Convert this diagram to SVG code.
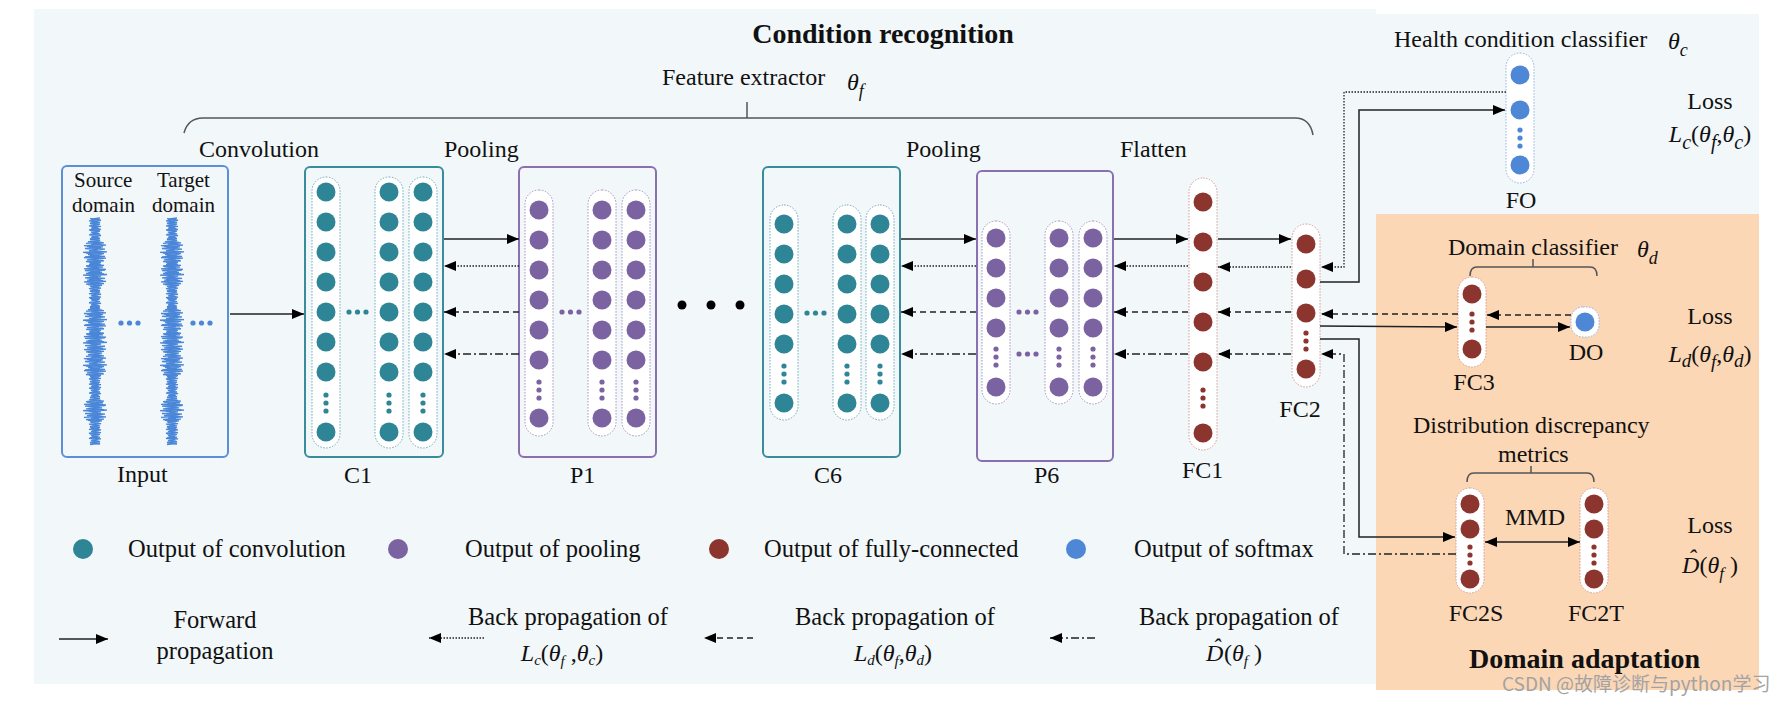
<svg xmlns="http://www.w3.org/2000/svg" width="1783" height="704" viewBox="0 0 1783 704">
<style>
.t{font-family:"Liberation Serif","Times New Roman",serif;font-size:24px;fill:#111}
.lg{font-size:24.5px}
.bt{font-weight:bold;font-size:28px}
.it{font-style:italic}
.sm{font-size:21px}
.teal{fill:#2e8596}
.pur{fill:#7b63a2}
.red{fill:#8c352f}
.blu{fill:#4d87d6}
.capT{fill:#fff;stroke:#6aaab8;stroke-width:1;stroke-dasharray:1.5 1.5}
.capP{fill:#fff;stroke:#a592c4;stroke-width:1;stroke-dasharray:1.5 1.5}
.capR{fill:#fff;stroke:#d49a94;stroke-width:1;stroke-dasharray:1.5 1.5}
.capB{fill:#fff;stroke:#8fb2e4;stroke-width:1;stroke-dasharray:1.5 1.5}
.boxT{fill:none;stroke:#3a8c9c;stroke-width:2}
.boxP{fill:none;stroke:#8a70b0;stroke-width:2}
.ln{fill:none;stroke:#222;stroke-width:1.5;marker-end:url(#ah)}
.dot{stroke-dasharray:1.5 1.5;stroke-width:1.3}
.dsh{stroke-dasharray:6 4;stroke-width:1.3}
.dd{stroke-dasharray:8 3 2 3;stroke-width:1.3}
.br{fill:none;stroke:#555;stroke-width:1.5}
.wave{fill:none;stroke:#4a86d8;stroke-width:1.3}
</style>
<defs>
<marker id="ah" viewBox="0 0 12 10" refX="12" refY="5" markerWidth="12" markerHeight="10" markerUnits="userSpaceOnUse" orient="auto-start-reverse"><path d="M0,0 L12,5 L0,10 z" fill="#000"/></marker>
<path id="wv" d="M5,218 l-9 1.13 10 1.13 -9 1.13 8 1.13 -10 1.13 9 1.13 -10 1.13 9 1.13 -7 1.13 10 1.13 -11 1.13 9 1.13 -7 1.13 8 1.13 -11 1.13 9 1.13 -7 1.13 9 1.13 -10 1.13 10 1.13 -12 1.13 16 1.13 -13 1.13 15 1.13 -19 1.13 14 1.13 -16 1.13 13 1.13 -9 1.13 18 1.13 -21 1.13 16 1.13 -12 1.13 15 1.13 -21 1.13 15 1.13 -12 1.13 17 1.13 -15 1.13 11 1.13 -11 1.13 15 1.13 -17 1.13 12 1.13 -15 1.13 21 1.13 -15 1.13 12 1.13 -16 1.13 21 1.13 -18 1.13 9 1.13 -13 1.13 16 1.13 -14 1.13 19 1.13 -15 1.13 13 1.13 -16 1.13 12 1.13 -9 1.13 10 1.13 -9 1.13 8 1.13 -10 1.13 9 1.13 -10 1.13 9 1.13 -7 1.13 10 1.13 -11 1.13 9 1.13 -7 1.13 8 1.13 -11 1.13 9 1.13 -7 1.13 9 1.13 -10 1.13 10 1.13 -12 1.13 16 1.13 -13 1.13 15 1.13 -19 1.13 14 1.13 -16 1.13 13 1.13 -9 1.13 18 1.13 -21 1.13 16 1.13 -12 1.13 15 1.13 -21 1.13 15 1.13 -12 1.13 17 1.13 -15 1.13 11 1.13 -11 1.13 15 1.13 -17 1.13 12 1.13 -15 1.13 21 1.13 -15 1.13 12 1.13 -16 1.13 21 1.13 -18 1.13 9 1.13 -13 1.13 16 1.13 -14 1.13 19 1.13 -15 1.13 13 1.13 -16 1.13 12 1.13 -12 1.13 16 1.13 -13 1.13 15 1.13 -19 1.13 14 1.13 -16 1.13 13 1.13 -9 1.13 18 1.13 -21 1.13 16 1.13 -12 1.13 15 1.13 -21 1.13 15 1.13 -12 1.13 17 1.13 -15 1.13 11 1.13 -9 1.13 10 1.13 -9 1.13 8 1.13 -10 1.13 9 1.13 -10 1.13 9 1.13 -7 1.13 10 1.13 -11 1.13 9 1.13 -7 1.13 8 1.13 -11 1.13 9 1.13 -7 1.13 9 1.13 -10 1.13 10 1.13 -11 1.13 15 1.13 -17 1.13 12 1.13 -15 1.13 21 1.13 -15 1.13 12 1.13 -16 1.13 21 1.13 -18 1.13 9 1.13 -13 1.13 16 1.13 -14 1.13 19 1.13 -15 1.13 13 1.13 -16 1.13 12 1.13 -9 1.13 10 1.13 -9 1.13 8 1.13 -10 1.13 9 1.13 -10 1.13 9 1.13 -7 1.13 10 1.13 -11 1.13 9 1.13 -7 1.13 8 1.13 -11 1.13 9 1.13 -7 1.13 9 1.13 -10 1.13 10 1.13"/>
<g id="cC1"><circle cy="192" r="9.5"/><circle cy="222" r="9.5"/><circle cy="252" r="9.5"/><circle cy="282" r="9.5"/><circle cy="312" r="9.5"/><circle cy="342" r="9.5"/><circle cy="372" r="9.5"/><circle cy="395" r="2.6"/><circle cy="403" r="2.6"/><circle cy="411" r="2.6"/><circle cy="432" r="9.5"/></g>
<g id="cP1"><circle cy="210" r="9.5"/><circle cy="240" r="9.5"/><circle cy="270" r="9.5"/><circle cy="300" r="9.5"/><circle cy="330" r="9.5"/><circle cy="360" r="9.5"/><circle cy="382" r="2.6"/><circle cy="390" r="2.6"/><circle cy="398" r="2.6"/><circle cy="418" r="9.5"/></g>
<g id="cC6"><circle cy="224" r="9.5"/><circle cy="254" r="9.5"/><circle cy="284" r="9.5"/><circle cy="314" r="9.5"/><circle cy="344" r="9.5"/><circle cy="366" r="2.6"/><circle cy="374" r="2.6"/><circle cy="382" r="2.6"/><circle cy="403" r="9.5"/></g>
<g id="cP6"><circle cy="238" r="9.5"/><circle cy="268" r="9.5"/><circle cy="298" r="9.5"/><circle cy="328" r="9.5"/><circle cy="349" r="2.6"/><circle cy="357" r="2.6"/><circle cy="365" r="2.6"/><circle cy="387" r="9.5"/></g>
<g id="hd"><circle cx="0" r="2.6"/><circle cx="8.5" r="2.6"/><circle cx="17" r="2.6"/></g>
<g id="cFS"><circle cy="504" r="9.5"/><circle cy="529" r="9.5"/><circle cy="547" r="2.6"/><circle cy="555" r="2.6"/><circle cy="563" r="2.6"/><circle cy="579" r="9.5"/></g>
</defs>

<rect x="0" y="0" width="1783" height="704" fill="#fff"/>
<rect x="34" y="9" width="1342" height="675" fill="#f2f7fa"/>
<rect x="1376" y="14" width="383" height="200" fill="#f2f7fa"/>
<rect x="1376" y="214" width="383" height="476" fill="#fbd7b6"/>

<g id="titles">
<text class="t bt" x="883" y="43" text-anchor="middle">Condition recognition</text>
<text class="t" x="662" y="85">Feature extractor</text>
<text class="t it" x="847" y="90" font-size="28">θ<tspan font-size="18" dy="7">f</tspan></text>
<text class="t" x="199" y="157">Convolution</text>
<text class="t" x="444" y="157">Pooling</text>
<text class="t" x="906" y="157">Pooling</text>
<text class="t" x="1120" y="157">Flatten</text>
<text class="t bt" x="1469" y="668">Domain adaptation</text>
<path class="br" d="M184,133 Q188,118 203,118 L1295,118 Q1310,118 1313,135 M747,102 L747,118"/>
</g>

<g id="input">
<rect x="62" y="166" width="166" height="291" rx="5" fill="none" stroke="#5b8fd6" stroke-width="2"/>
<text class="t sm" x="74" y="187">Source</text>
<text class="t sm" x="72" y="212">domain</text>
<text class="t sm" x="157" y="187">Target</text>
<text class="t sm" x="152" y="212">domain</text>
<use href="#wv" class="wave" transform="translate(95,0)"/>
<use href="#wv" class="wave" transform="translate(95,0.56) scale(-1,1)"/>
<use href="#wv" class="wave" transform="translate(172,0)"/>
<use href="#wv" class="wave" transform="translate(172,0.56) scale(-1,1)"/>
<use href="#hd" x="121" y="323" class="blu"/>
<use href="#hd" x="193" y="323" class="blu"/>
<text class="t" x="117" y="482">Input</text>
</g>

<g id="C1">
<rect class="boxT" x="305" y="167" width="138" height="290" rx="5"/>
<rect class="capT" x="312" y="177" width="28" height="271" rx="14"/>
<rect class="capT" x="375" y="177" width="28" height="271" rx="14"/>
<rect class="capT" x="409" y="177" width="28" height="271" rx="14"/>
<use href="#cC1" x="326" class="teal"/>
<use href="#cC1" x="389" class="teal"/>
<use href="#cC1" x="423" class="teal"/>
<use href="#hd" x="349" y="312" class="teal"/>
<text class="t" x="344" y="483">C1</text>
</g>

<g id="P1">
<rect class="boxP" x="519" y="167" width="137" height="290" rx="5"/>
<rect class="capP" x="525" y="190" width="28" height="246" rx="14"/>
<rect class="capP" x="588" y="190" width="28" height="246" rx="14"/>
<rect class="capP" x="622" y="190" width="28" height="246" rx="14"/>
<use href="#cP1" x="539" class="pur"/>
<use href="#cP1" x="602" class="pur"/>
<use href="#cP1" x="636" class="pur"/>
<use href="#hd" x="562" y="312" class="pur"/>
<text class="t" x="570" y="483">P1</text>
</g>

<g id="ellipsis">
<circle cx="682" cy="305" r="4.5" fill="#000"/>
<circle cx="711" cy="305" r="4.5" fill="#000"/>
<circle cx="740" cy="305" r="4.5" fill="#000"/>
</g>

<g id="C6">
<rect class="boxT" x="763" y="167" width="137" height="290" rx="5"/>
<rect class="capT" x="770" y="205" width="28" height="215" rx="14"/>
<rect class="capT" x="833" y="205" width="28" height="215" rx="14"/>
<rect class="capT" x="866" y="205" width="28" height="215" rx="14"/>
<use href="#cC6" x="784" class="teal"/>
<use href="#cC6" x="847" class="teal"/>
<use href="#cC6" x="880" class="teal"/>
<use href="#hd" x="807" y="313" class="teal"/>
<text class="t" x="814" y="483">C6</text>
</g>

<g id="P6">
<rect class="boxP" x="977" y="171" width="136" height="290" rx="5"/>
<rect class="capP" x="982" y="221" width="28" height="183" rx="14"/>
<rect class="capP" x="1045" y="221" width="28" height="183" rx="14"/>
<rect class="capP" x="1079" y="221" width="28" height="183" rx="14"/>
<use href="#cP6" x="996" class="pur"/>
<use href="#cP6" x="1059" class="pur"/>
<use href="#cP6" x="1093" class="pur"/>
<use href="#hd" x="1019" y="312" class="pur"/>
<use href="#hd" x="1019" y="354" class="pur"/>
<text class="t" x="1034" y="483">P6</text>
</g>

<g id="FC1">
<rect class="capR" x="1189" y="178" width="28" height="272" rx="14"/>
<g class="red" transform="translate(1203,0)"><circle cy="202" r="9.5"/><circle cy="242" r="9.5"/><circle cy="282" r="9.5"/><circle cy="322" r="9.5"/><circle cy="362" r="9.5"/><circle cy="390" r="2.6"/><circle cy="398" r="2.6"/><circle cy="406" r="2.6"/><circle cy="433" r="9.5"/></g>
<text class="t" x="1182" y="478">FC1</text>
</g>

<g id="FC2">
<rect class="capR" x="1292" y="224" width="28" height="163" rx="14"/>
<g class="red" transform="translate(1306,0)"><circle cy="244" r="9.5"/><circle cy="279" r="9.5"/><circle cy="313" r="9.5"/><circle cy="333" r="2.6"/><circle cy="341" r="2.6"/><circle cy="349" r="2.6"/><circle cy="369" r="9.5"/></g>
<text class="t" x="1300" y="417" text-anchor="middle">FC2</text>
</g>

<g id="FO">
<text class="t" x="1394" y="47">Health condition classifier</text>
<text class="t it" x="1668" y="49" font-size="28">θ<tspan font-size="18" dy="7">c</tspan></text>
<rect class="capB" x="1506" y="53" width="28" height="130" rx="14"/>
<g class="blu" transform="translate(1520,0)"><circle cy="75" r="9.5"/><circle cy="110" r="9.5"/><circle cy="130" r="2.6"/><circle cy="138" r="2.6"/><circle cy="146" r="2.6"/><circle cy="165" r="9.5"/></g>
<text class="t" x="1521" y="208" text-anchor="middle">FO</text>
<text class="t" x="1710" y="109" text-anchor="middle">Loss</text>
<text class="t" x="1710" y="142" text-anchor="middle"><tspan class="it">L</tspan><tspan class="it" font-size="20" dy="7">c</tspan><tspan dy="-7">(</tspan><tspan class="it">θ</tspan><tspan class="it" font-size="20" dy="7">f</tspan><tspan dy="-7">,</tspan><tspan class="it">θ</tspan><tspan class="it" font-size="20" dy="7">c</tspan><tspan dy="-7">)</tspan></text>
</g>

<g id="FC3">
<text class="t" x="1448" y="255">Domain classifier</text>
<text class="t it" x="1637" y="257" font-size="28">θ<tspan font-size="18" dy="7">d</tspan></text>
<path class="br" d="M1470,276 Q1470,267 1477,267 L1590,267 Q1597,267 1597,276 M1533,259 L1533,267"/>
<rect class="capR" x="1458" y="277" width="28" height="90" rx="14"/>
<g class="red" transform="translate(1472,0)"><circle cy="294" r="9.5"/><circle cy="314" r="2.6"/><circle cy="322" r="2.6"/><circle cy="330" r="2.6"/><circle cy="349" r="9.5"/></g>
<text class="t" x="1474" y="390" text-anchor="middle">FC3</text>
</g>

<g id="DO">
<rect class="capB" x="1571" y="307" width="28" height="30" rx="12"/>
<circle class="blu" cx="1585" cy="322" r="9.5"/>
<text class="t" x="1586" y="360" text-anchor="middle">DO</text>
<text class="t" x="1710" y="324" text-anchor="middle">Loss</text>
<text class="t" x="1710" y="362" text-anchor="middle"><tspan class="it">L</tspan><tspan class="it" font-size="19" dy="5">d</tspan><tspan dy="-5">(</tspan><tspan class="it">θ</tspan><tspan class="it" font-size="19" dy="6">f</tspan><tspan dy="-6">,</tspan><tspan class="it">θ</tspan><tspan class="it" font-size="19" dy="5">d</tspan><tspan dy="-5">)</tspan></text>
</g>

<g id="FC2S">
<text class="t" x="1413" y="433">Distribution discrepancy</text>
<text class="t" x="1498" y="462">metrics</text>
<path class="br" d="M1467,482 Q1467,473 1474,473 L1587,473 Q1594,473 1594,482 M1531,466 L1531,473"/>
<rect class="capR" x="1456" y="488" width="28" height="105" rx="14"/>
<use href="#cFS" x="1470" class="red"/>
<text class="t" x="1476" y="621" text-anchor="middle">FC2S</text>
<text class="t" x="1505" y="525">MMD</text>
</g>

<g id="FC2T">
<rect class="capR" x="1580" y="488" width="28" height="105" rx="14"/>
<use href="#cFS" x="1594" class="red"/>
<text class="t" x="1596" y="621" text-anchor="middle">FC2T</text>
<text class="t" x="1710" y="533" text-anchor="middle">Loss</text>
<text class="t" x="1710" y="573" text-anchor="middle"><tspan class="it">D</tspan><tspan class="it" dx="-11.3" dy="-7">ˆ</tspan><tspan dx="3.3" dy="7">(</tspan><tspan class="it">θ</tspan><tspan class="it" font-size="17" dy="6">f</tspan><tspan dy="-6"> )</tspan></text>
</g>

<g id="connectors">
<line class="ln" x1="230" y1="314" x2="304" y2="314"/>
<line class="ln" x1="444" y1="239" x2="519" y2="239"/>
<line class="ln dot" x1="519" y1="266" x2="444" y2="266"/>
<line class="ln dsh" x1="519" y1="312" x2="444" y2="312"/>
<line class="ln dd" x1="519" y1="354" x2="444" y2="354"/>
<line class="ln" x1="901" y1="239" x2="976" y2="239"/>
<line class="ln dot" x1="976" y1="266" x2="901" y2="266"/>
<line class="ln dsh" x1="976" y1="312" x2="901" y2="312"/>
<line class="ln dd" x1="976" y1="354" x2="901" y2="354"/>
<line class="ln" x1="1114" y1="239" x2="1188" y2="239"/>
<line class="ln dot" x1="1188" y1="266" x2="1114" y2="266"/>
<line class="ln dsh" x1="1188" y1="312" x2="1114" y2="312"/>
<line class="ln dd" x1="1188" y1="354" x2="1114" y2="354"/>
<line class="ln" x1="1218" y1="239" x2="1291" y2="239"/>
<line class="ln dot" x1="1291" y1="267" x2="1218" y2="267"/>
<line class="ln dsh" x1="1291" y1="312" x2="1218" y2="312"/>
<line class="ln dd" x1="1291" y1="354" x2="1218" y2="354"/>
<polyline class="ln" points="1320,282 1359,282 1359,110 1505,110"/>
<polyline class="ln dot" points="1506,92 1344,92 1344,267 1321,267"/>
<line class="ln" x1="1320" y1="326" x2="1457" y2="327"/>
<line class="ln" x1="1486" y1="327" x2="1570" y2="327"/>
<line class="ln dsh" x1="1571" y1="315" x2="1487" y2="315"/>
<line class="ln dsh" x1="1458" y1="314" x2="1321" y2="314"/>
<polyline class="ln" points="1320,339 1359,339 1359,537 1455,537"/>
<polyline class="ln dd" points="1456,554 1344,554 1344,354 1321,354"/>
<line class="ln" x1="1485" y1="542" x2="1580" y2="542" marker-start="url(#ah)"/>
</g>

<g id="legend">
<circle class="teal" cx="83" cy="549" r="10"/>
<text class="t lg" x="128" y="557">Output of convolution</text>
<circle class="pur" cx="398" cy="549" r="10"/>
<text class="t lg" x="465" y="557">Output of pooling</text>
<circle class="red" cx="719" cy="549" r="10"/>
<text class="t lg" x="764" y="557">Output of fully-connected</text>
<circle class="blu" cx="1076" cy="549" r="10"/>
<text class="t lg" x="1134" y="557">Output of softmax</text>
<line class="ln" x1="59" y1="639" x2="108" y2="639"/>
<text class="t lg" x="215" y="628" text-anchor="middle">Forward</text>
<text class="t lg" x="215" y="659" text-anchor="middle">propagation</text>
<line class="ln dot" x1="484" y1="638" x2="429" y2="638"/>
<text class="t lg" x="568" y="625" text-anchor="middle">Back propagation of</text>
<text class="t" x="562" y="661" font-size="22" text-anchor="middle"><tspan class="it">L</tspan><tspan class="it" font-size="15" dy="4">c</tspan><tspan dy="-4">(</tspan><tspan class="it">θ</tspan><tspan class="it" font-size="15" dy="5">f</tspan><tspan dy="-5"> ,</tspan><tspan class="it">θ</tspan><tspan class="it" font-size="15" dy="4">c</tspan><tspan dy="-4">)</tspan></text>
<line class="ln dsh" x1="753" y1="638" x2="704" y2="638"/>
<text class="t lg" x="895" y="625" text-anchor="middle">Back propagation of</text>
<text class="t" x="893" y="661" font-size="22" text-anchor="middle"><tspan class="it">L</tspan><tspan class="it" font-size="15" dy="4">d</tspan><tspan dy="-4">(</tspan><tspan class="it">θ</tspan><tspan class="it" font-size="15" dy="5">f</tspan><tspan dy="-5">,</tspan><tspan class="it">θ</tspan><tspan class="it" font-size="15" dy="4">d</tspan><tspan dy="-4">)</tspan></text>
<line class="ln dd" x1="1095" y1="638" x2="1050" y2="638"/>
<text class="t lg" x="1239" y="625" text-anchor="middle">Back propagation of</text>
<text class="t" x="1234" y="661" font-size="22" text-anchor="middle"><tspan class="it">D</tspan><tspan class="it" dx="-10.9" dy="-6">ˆ</tspan><tspan dx="3.6" dy="6">(</tspan><tspan class="it">θ</tspan><tspan class="it" font-size="15" dy="5">f</tspan><tspan dy="-5"> )</tspan></text>
</g>

<text x="1502" y="691" font-family="'Noto Sans CJK SC','Liberation Sans',sans-serif" font-size="19" fill="#a3a3a3">CSDN @故障诊断与python学习</text>
</svg>
